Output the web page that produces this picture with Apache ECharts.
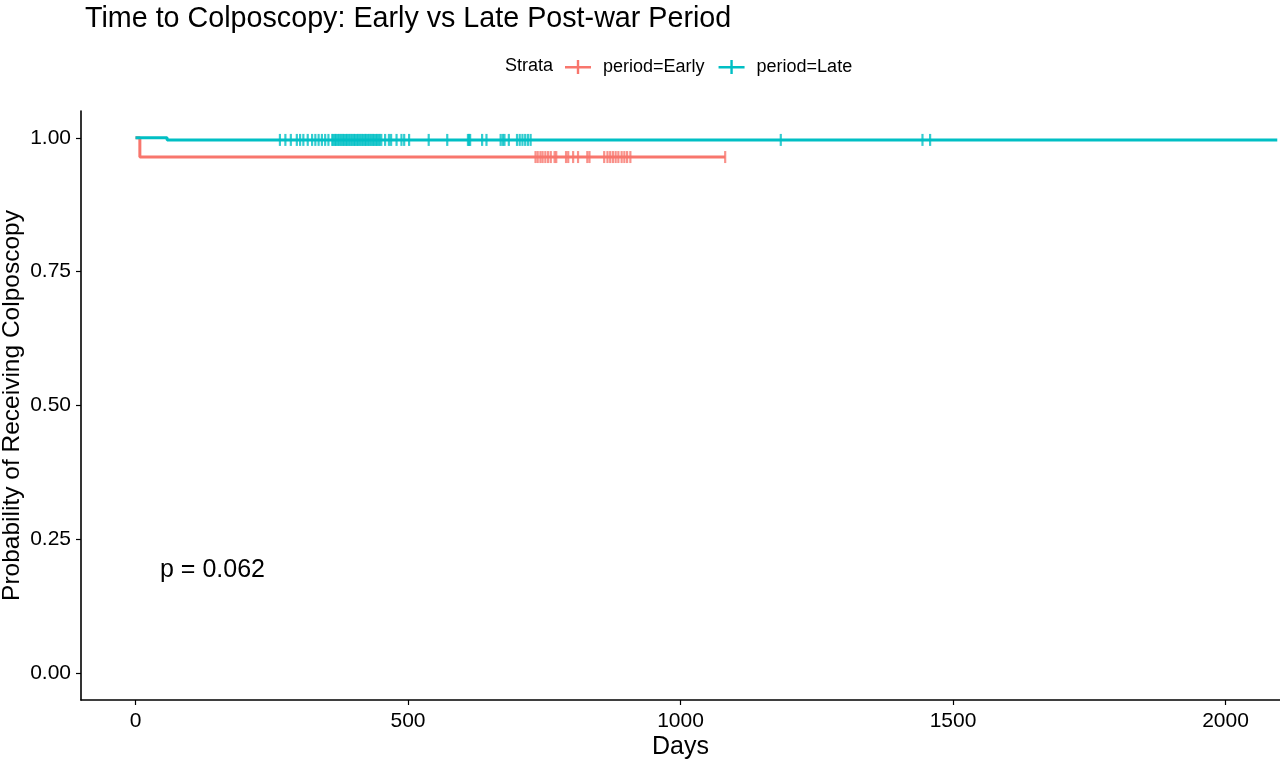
<!DOCTYPE html>
<html>
<head>
<meta charset="utf-8">
<script src="https://cdn.jsdelivr.net/npm/echarts@6/dist/echarts.min.js"></script>
<style>
html,body{margin:0;padding:0;background:#fff;}
#c{width:1280px;height:759px;}
</style>
</head>
<body>
<div id="c"></div>
<script>
// ---- data ----
const seriesNames = ['period=Early', 'period=Late'];
const earlyStep = [[0, 1], [8, 0.964], [1082, 0.964]];
const lateStep = [[0, 1], [58, 0.996], [2095, 0.996]];
const earlyCensorTimes = [734, 738, 743, 747, 752, 757, 762, 769, 772, 790, 794, 803, 812, 829, 833, 860, 866, 871, 876, 881, 886, 892, 897, 902, 908, 1082];
const earlyCensorSurv = 0.964;
const lateCensorTimes = [265, 275, 285, 296, 302, 308, 316, 324, 330, 336, 342, 348, 354, 361, 363, 366, 368, 371, 373, 376, 378, 381, 383, 386, 388, 391, 393, 396, 398, 401, 403, 406, 408, 411, 413, 416, 418, 421, 423, 426, 428, 431, 433, 436, 438, 441, 443, 446, 448, 451, 458, 465, 469, 479, 488, 493, 502, 538, 572, 610, 612, 614, 636, 644, 670, 674, 677, 685, 700, 705, 710, 715, 720, 725, 1184, 1444, 1458];
const lateCensorSurv = 0.996;
const xTicks = [0, 500, 1000, 1500, 2000];
const yTicks = [0, 0.25, 0.5, 0.75, 1];
const pValueText = 'p = 0.062';

const colors = ['#F8766D', '#00BFC4'];
const plusIcon = 'path://M0,6L26,6L26,8.4L0,8.4Z M11.8,0L14.2,0L14.2,14L11.8,14Z';
const FONT = 'Liberation Sans, Arial, sans-serif';

const chart = echarts.init(document.getElementById('c'), null, {renderer: 'canvas'});

const option = {
  animation: false,
  backgroundColor: '#fff',
  title: {
    text: 'Time to Colposcopy: Early vs Late Post-war Period',
    left: 80, top: 0,
    textStyle: {fontFamily: FONT, fontSize: 28.7, fontWeight: 'normal', color: '#000'}
  },
  legend: {
    data: [
      {name: seriesNames[0], icon: plusIcon, itemStyle: {color: colors[0]}},
      {name: seriesNames[1], icon: plusIcon, itemStyle: {color: colors[1]}}
    ],
    left: 565, top: 58, padding: 0,
    itemWidth: 26, itemHeight: 14, itemGap: 14,
    textStyle: {fontFamily: FONT, fontSize: 18, color: '#000', padding: [0, 0, 0, 7]}
  },
  graphic: [
    {type: 'text', left: 505, top: 57, style: {text: 'Strata', font: '18px ' + FONT, fill: '#000'}},
    {type: 'text', left: 160, top: 558, style: {text: pValueText, font: '25px ' + FONT, fill: '#000'}}
  ],
  grid: {left: 81, right: 0, top: 111, bottom: 59, containLabel: false, outerBoundsMode: 'none'},
  xAxis: {
    type: 'value', min: -100, max: 2100,
    name: 'Days', nameLocation: 'middle', nameGap: 35, nameMoveOverlap: false,
    nameTextStyle: {fontFamily: FONT, fontSize: 25, color: '#000'},
    axisLine: {show: true, onZero: false, lineStyle: {color: '#000', width: 1.6}},
    axisTick: {show: true, customValues: xTicks, length: 5, lineStyle: {color: '#000', width: 1.2}},
    axisLabel: {customValues: xTicks, fontFamily: FONT, fontSize: 21, color: '#000', margin: 11,
      formatter: v => String(v)},
    splitLine: {show: false}
  },
  yAxis: {
    type: 'value', min: -0.05, max: 1.05,
    name: 'Probability of Receiving Colposcopy', nameLocation: 'middle', nameGap: 56, nameMoveOverlap: false,
    nameTextStyle: {fontFamily: FONT, fontSize: 24.5, color: '#000'},
    axisLine: {show: true, onZero: false, lineStyle: {color: '#000', width: 1.6}},
    axisTick: {show: true, customValues: yTicks, length: 5, lineStyle: {color: '#000', width: 1.2}},
    axisLabel: {customValues: yTicks, fontFamily: FONT, fontSize: 21, color: '#000', margin: 10,
      formatter: v => v.toFixed(2)},
    splitLine: {show: false}
  },
  series: [
    {
      name: seriesNames[0], type: 'line', step: 'end', data: earlyStep,
      showSymbol: false, symbol: 'none', color: colors[0],
      lineStyle: {width: 3, color: colors[0]}, z: 2
    },
    {
      name: seriesNames[1], type: 'line', step: 'end', data: lateStep,
      showSymbol: false, symbol: 'none', color: colors[1],
      lineStyle: {width: 3, color: colors[1]}, z: 3
    },
    {
      name: seriesNames[0], type: 'scatter',
      data: earlyCensorTimes.map(t => [t, earlyCensorSurv]),
      symbol: 'rect', symbolSize: [2.2, 12], itemStyle: {color: colors[0]}, z: 4
    },
    {
      name: seriesNames[1], type: 'scatter',
      data: lateCensorTimes.map(t => [t, lateCensorSurv]),
      symbol: 'rect', symbolSize: [2.2, 12], itemStyle: {color: colors[1]}, z: 5
    }
  ]
};
chart.setOption(option);
</script>
</body>
</html>
